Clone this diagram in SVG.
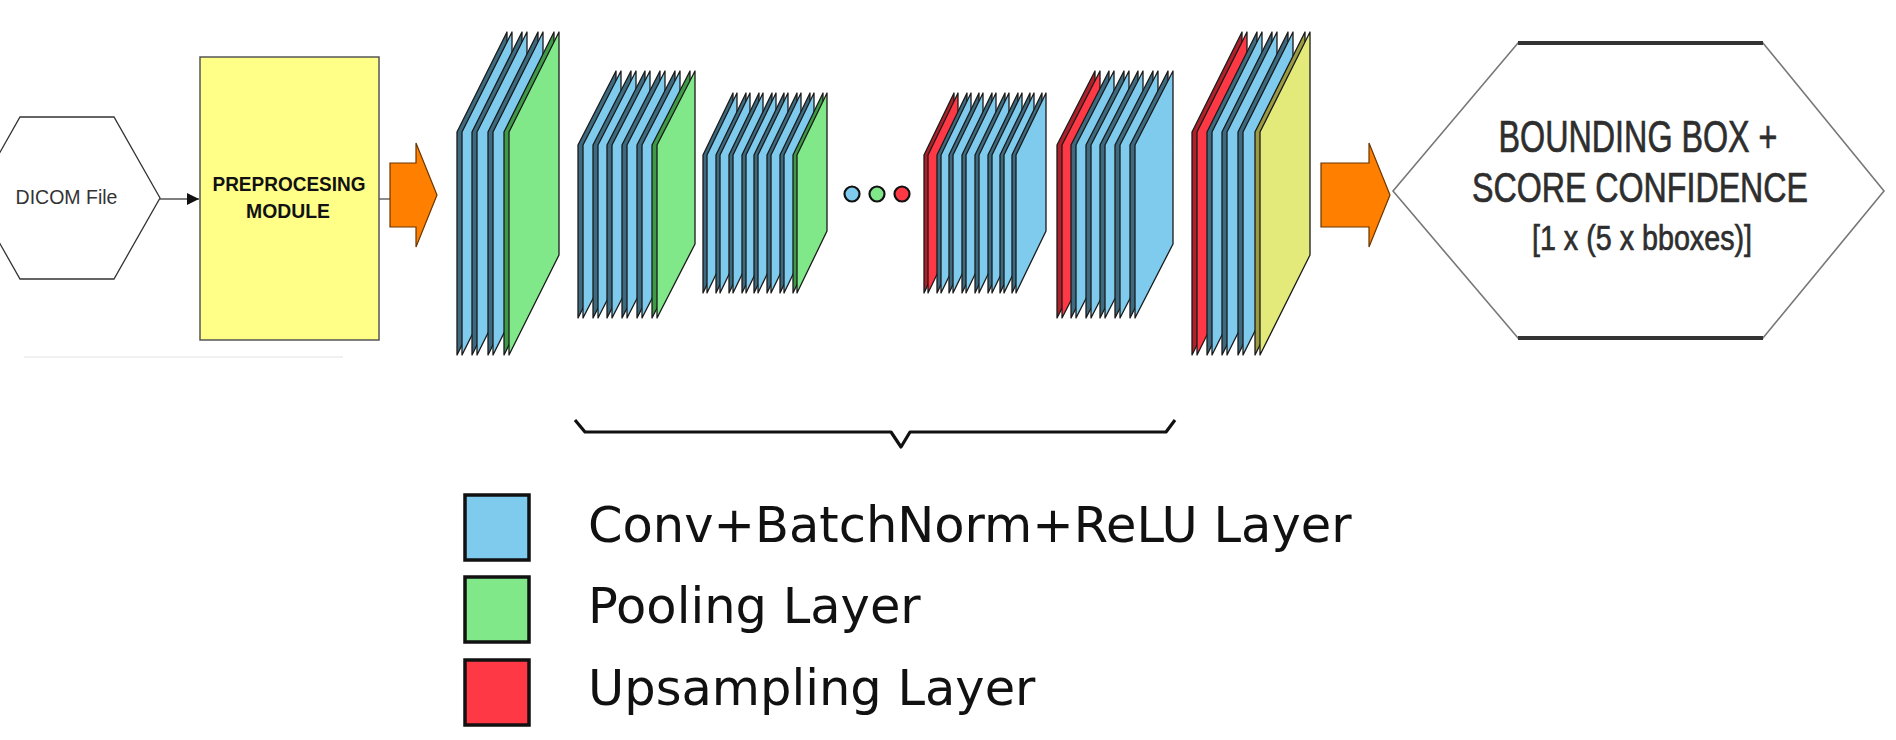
<svg xmlns="http://www.w3.org/2000/svg" xmlns:xlink="http://www.w3.org/1999/xlink" width="1896" height="740" viewBox="0 0 1896 740">
<style>
.b{fill:#7ecbee}.bs{fill:#3d6a7f}
.g{fill:#80e888}.gs{fill:#3f9a48}
.r{fill:#ff3845}.rs{fill:#b0202a}
.y{fill:#e4ea7a}.ys{fill:#9a9a40}
.slab use{stroke:#1a1a1a;stroke-width:1.3;stroke-linejoin:round}
.orange{fill:#ff8000;stroke:#6a3500;stroke-width:1.2}
.lbl{font-family:"Liberation Sans",Arial,sans-serif}
.out{font-family:"Liberation Sans",Arial,sans-serif;fill:#2e2e2e;stroke:#2e2e2e;stroke-width:0.7;text-anchor:middle}
.leg{font-family:"DejaVu Sans",Verdana,sans-serif;font-size:49.5px;fill:#111}
.lbox{stroke:#111;stroke-width:3.5}
.dot{stroke:#111;stroke-width:2.2}
</style>
<defs>
<path id="Af" d="M0,0 l50,-100 v223 l-50,100 z"/>
<path id="As" d="M-5,0 l50,-100 v223 l-50,100 z"/>
<path id="Bf" d="M0,0 l38,-74 v173 l-38,74 z"/>
<path id="Bs" d="M-5,0 l38,-74 v173 l-38,74 z"/>
<path id="Cf" d="M0,0 l30,-62 v138 l-30,62 z"/>
<path id="Cs" d="M-4,0 l30,-62 v138 l-30,62 z"/>
<marker id="ah" viewBox="0 0 12 12" refX="12" refY="6" markerWidth="12" markerHeight="12" markerUnits="userSpaceOnUse" orient="auto">
<path d="M0,0 L12,6 L0,12 z" fill="#111"/>
</marker>
</defs>
<rect width="1896" height="740" fill="#fff"/>
<line x1="24" y1="357" x2="343" y2="357" stroke="#ececec" stroke-width="1.5"/>

<g id="connectors">
<line x1="160" y1="199" x2="199" y2="199" stroke="#555" stroke-width="1.5" marker-end="url(#ah)"/>
<line x1="379" y1="199" x2="391" y2="199" stroke="#666" stroke-width="1.5"/>
<path id="arrow1" class="orange" d="M390,163 H416 V143 L437,195 L416,247 V227 H390 Z"/>
<path id="arrow2" class="orange" d="M1321,163 H1369 V143 L1390,195 L1369,247 V227 H1321 Z"/>
</g>

<g id="dicom">
<polygon points="-26,198 20,117 114,117 160,198 114,279 20,279" fill="#fff" stroke="#333" stroke-width="1.3"/>
<text class="lbl" transform="translate(66.5,204) scale(0.93,1)" font-size="21" text-anchor="middle" fill="#333">DICOM File</text>
</g>

<g id="preprocessing">
<rect x="200" y="57" width="179" height="283" fill="#ffff88" stroke="#555" stroke-width="1.5"/>
<text class="lbl" transform="translate(289,191) scale(0.905,1)" font-size="21" font-weight="bold" text-anchor="middle" fill="#111">PREPROCESING</text>
<text class="lbl" transform="translate(288,218) scale(0.923,1)" font-size="21" font-weight="bold" text-anchor="middle" fill="#111">MODULE</text>
</g>

<g id="stack1" class="slab">
<g transform="translate(462,132)"><use href="#As" class="bs"/><use href="#Af" class="b"/></g>
<g transform="translate(477,132)"><use href="#As" class="bs"/><use href="#Af" class="b"/></g>
<g transform="translate(493,132)"><use href="#As" class="bs"/><use href="#Af" class="b"/></g>
<g transform="translate(509,132)"><use href="#As" class="gs"/><use href="#Af" class="g"/></g>
</g>

<g id="stack2" class="slab">
<g transform="translate(583,145)"><use href="#Bs" class="bs"/><use href="#Bf" class="b"/></g>
<g transform="translate(598,145)"><use href="#Bs" class="bs"/><use href="#Bf" class="b"/></g>
<g transform="translate(612,145)"><use href="#Bs" class="bs"/><use href="#Bf" class="b"/></g>
<g transform="translate(627,145)"><use href="#Bs" class="bs"/><use href="#Bf" class="b"/></g>
<g transform="translate(642,145)"><use href="#Bs" class="bs"/><use href="#Bf" class="b"/></g>
<g transform="translate(657,145)"><use href="#Bs" class="gs"/><use href="#Bf" class="g"/></g>
</g>

<g id="stack3" class="slab">
<g transform="translate(707,155)"><use href="#Cs" class="bs"/><use href="#Cf" class="b"/></g>
<g transform="translate(720,155)"><use href="#Cs" class="bs"/><use href="#Cf" class="b"/></g>
<g transform="translate(733,155)"><use href="#Cs" class="bs"/><use href="#Cf" class="b"/></g>
<g transform="translate(746,155)"><use href="#Cs" class="bs"/><use href="#Cf" class="b"/></g>
<g transform="translate(758,155)"><use href="#Cs" class="bs"/><use href="#Cf" class="b"/></g>
<g transform="translate(771,155)"><use href="#Cs" class="bs"/><use href="#Cf" class="b"/></g>
<g transform="translate(784,155)"><use href="#Cs" class="bs"/><use href="#Cf" class="b"/></g>
<g transform="translate(797,155)"><use href="#Cs" class="gs"/><use href="#Cf" class="g"/></g>
</g>

<g id="ellipsis">
<circle class="dot b" cx="852" cy="194" r="7.5"/>
<circle class="dot g" cx="877" cy="194" r="7.5"/>
<circle class="dot r" cx="902" cy="194" r="7.5"/>
</g>

<g id="stack4" class="slab">
<g transform="translate(928,155)"><use href="#Cs" class="rs"/><use href="#Cf" class="r"/></g>
<g transform="translate(941,155)"><use href="#Cs" class="bs"/><use href="#Cf" class="b"/></g>
<g transform="translate(953,155)"><use href="#Cs" class="bs"/><use href="#Cf" class="b"/></g>
<g transform="translate(966,155)"><use href="#Cs" class="bs"/><use href="#Cf" class="b"/></g>
<g transform="translate(979,155)"><use href="#Cs" class="bs"/><use href="#Cf" class="b"/></g>
<g transform="translate(992,155)"><use href="#Cs" class="bs"/><use href="#Cf" class="b"/></g>
<g transform="translate(1004,155)"><use href="#Cs" class="bs"/><use href="#Cf" class="b"/></g>
<g transform="translate(1016,155)"><use href="#Cs" class="bs"/><use href="#Cf" class="b"/></g>
</g>

<g id="stack5" class="slab">
<g transform="translate(1062,145)"><use href="#Bs" class="rs"/><use href="#Bf" class="r"/></g>
<g transform="translate(1076,145)"><use href="#Bs" class="bs"/><use href="#Bf" class="b"/></g>
<g transform="translate(1091,145)"><use href="#Bs" class="bs"/><use href="#Bf" class="b"/></g>
<g transform="translate(1105,145)"><use href="#Bs" class="bs"/><use href="#Bf" class="b"/></g>
<g transform="translate(1120,145)"><use href="#Bs" class="bs"/><use href="#Bf" class="b"/></g>
<g transform="translate(1135,145)"><use href="#Bs" class="bs"/><use href="#Bf" class="b"/></g>
</g>

<g id="stack6" class="slab">
<g transform="translate(1197,132)"><use href="#As" class="rs"/><use href="#Af" class="r"/></g>
<g transform="translate(1212,132)"><use href="#As" class="bs"/><use href="#Af" class="b"/></g>
<g transform="translate(1227,132)"><use href="#As" class="bs"/><use href="#Af" class="b"/></g>
<g transform="translate(1243,132)"><use href="#As" class="bs"/><use href="#Af" class="b"/></g>
<g transform="translate(1260,132)"><use href="#As" class="ys"/><use href="#Af" class="y"/></g>
</g>

<g id="output">
<polygon points="1393,191 1518,43 1763,43 1884,191 1763,338 1518,338" fill="#fff" stroke="#777" stroke-width="1.6"/>
<line x1="1518" y1="43" x2="1763" y2="43" stroke="#333" stroke-width="4"/>
<line x1="1518" y1="338" x2="1763" y2="338" stroke="#333" stroke-width="4"/>
<text class="out" transform="translate(1638,152) scale(0.734,1)" font-size="44">BOUNDING BOX +</text>
<text class="out" transform="translate(1640,202) scale(0.766,1)" font-size="42">SCORE CONFIDENCE</text>
<text class="out" transform="translate(1642,250) scale(0.82,1)" font-size="35">[1 x (5 x bboxes)]</text>
</g>

<g id="brace">
<path d="M575,420 L585,432 H891 L901,447 L910,432 H1166 L1175,420" fill="none" stroke="#111" stroke-width="3.2" stroke-linejoin="round"/>
</g>

<g id="legend">
<g id="legend-conv"><rect class="lbox b" x="465" y="495" width="64" height="65"/><text class="leg" x="588" y="542">Conv+BatchNorm+ReLU Layer</text></g>
<g id="legend-pool"><rect class="lbox g" x="465" y="577" width="64" height="65"/><text class="leg" x="588" y="623">Pooling Layer</text></g>
<g id="legend-up"><rect class="lbox r" x="465" y="660" width="64" height="65"/><text class="leg" x="588" y="705">Upsampling Layer</text></g>
</g>
</svg>
